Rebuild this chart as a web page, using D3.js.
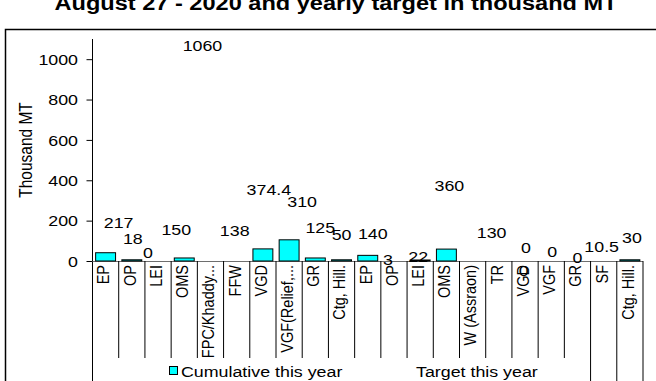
<!DOCTYPE html>
<html>
<head>
<meta charset="utf-8">
<script src="https://cdn.jsdelivr.net/npm/d3@7"></script>
<style>
  html, body { margin: 0; padding: 0; background: #fff; }
  svg { display: block; }
  text { font-family: "Liberation Sans", Arial, sans-serif; fill: #000; }
</style>
</head>
<body>
<svg id="chart" width="656" height="381"></svg>
<script>
// Programme names (two reporting blocks)
const categories = ["EP", "OP", "LEI", "OMS", "FPC/Khaddy...", "FFW", "VGD", "VGF(Relief,...", "GR", "Ctg, Hill.",
                    "EP", "OP", "LEI", "OMS", "W (Assraon)", "TR", "VGD", "VGF", "GR", "SF", "Ctg, Hill."];
// Thousand MT distributed so far this year
const cumulative = [41, 6, 0, 15, 0, 0, 60, 105, 15, 6, 28, 0, 5, 59, 0, 0, 0, 0, 0, 0, 6];
// Thousand MT yearly target
const target = [217, 18, 0, 150, 1060, 138, 374.4, 310, 125, 50, 140, 3, 22, 360, 130, 0, 0, 0, 0, 10.5, 30];
const yTicks = [0, 200, 400, 600, 800, 1000];
const seriesNames = ["Cumulative this year", "Target this year"];
const titleText = "August 27 - 2020 and yearly target in thousand MT";
const yTitle = "Thousand MT";

// Hand-dragged offsets of the target labels (dx, dy) so they do not collide
const labelNudge = [[13, 6], [1, -18], [-10, -8], [-8, -1], [-8, -1], [-2, -2], [6, 4], [13, 3], [5, -8], [0, -16],
                    [5, 1], [-6, 0], [-2, 0], [3, -2], [19, -2], [25, 10], [1, -13], [1, -9], [0, -3], [-2, -12], [2, -17]];
// Boundaries of the outer category level, whose divider lines run further down
const outerBreaks = [0, 19, 20, 21];

const svg = d3.select("#chart");
const stretch = 1.15;           // glyphs are rendered slightly wide
const fontSize = 15.5;

const plot = { left: 92.5, right: 643, top: 39, base: 261, tickEnd: 358, bottom: 381 };

const x = d3.scaleBand()
  .domain(d3.range(categories.length))
  .range([plot.left, plot.right])
  .padding(0);
const y = d3.scaleLinear().domain([0, 1100]).range([plot.base, plot.top]);
const barW = x.bandwidth() * 0.76;

function placeText(sel, px, py, rot) {
  sel.attr("transform", `translate(${px},${py}) scale(${stretch},1)` + (rot ? ` rotate(${rot})` : ""));
  return sel;
}

// Frame of the chart area
svg.append("path")
  .attr("d", `M5.5,${plot.bottom} V29.5 H656`)
  .attr("fill", "none").attr("stroke", "#000").attr("stroke-width", 1.5);

// Title
placeText(svg.append("text"), 336, 10)
  .attr("text-anchor", "middle")
  .attr("font-weight", "bold")
  .attr("font-size", 20.5)
  .text(titleText);

// Y axis
const yAxis = d3.axisLeft(y).tickValues(yTicks).tickSize(6).tickPadding(0).tickFormat(d3.format("d"));
const gy = svg.append("g").attr("transform", `translate(${plot.left},0)`).call(yAxis);
gy.select(".domain").remove();
gy.selectAll(".tick line").attr("stroke", "#000");
gy.selectAll(".tick text").remove();
gy.selectAll(".tick").each(function (d) {
  placeText(d3.select(this).append("text"), -14.5, 0)
    .attr("text-anchor", "end")
    .attr("dominant-baseline", "central")
    .attr("font-size", fontSize)
    .text(d);
});
svg.append("line")
  .attr("x1", plot.left).attr("x2", plot.left)
  .attr("y1", plot.top).attr("y2", plot.bottom)
  .attr("stroke", "#000");

placeText(svg.append("text"), 26.5, (plot.top + plot.base) / 2, -90)
  .attr("text-anchor", "middle")
  .attr("dominant-baseline", "central")
  .attr("font-size", fontSize)
  .text(yTitle);

// Category baseline
svg.append("line")
  .attr("x1", plot.left).attr("x2", plot.right)
  .attr("y1", plot.base + 0.5).attr("y2", plot.base + 0.5)
  .attr("stroke", "#6e6e6e");

// Category divider lines
const edges = d3.range(1, categories.length + 1);
svg.append("g").selectAll("line").data(edges).join("line")
  .attr("x1", i => x.step() * i + plot.left)
  .attr("x2", i => x.step() * i + plot.left)
  .attr("y1", plot.base)
  .attr("y2", i => outerBreaks.includes(i) ? plot.bottom : plot.tickEnd)
  .attr("stroke", "#000");

// Category labels
svg.append("g").selectAll("text").data(categories).join("text")
  .each(function (d, i) {
    placeText(d3.select(this), x(i) + x.bandwidth() / 2 - 2, plot.base + 4, -90);
  })
  .attr("text-anchor", "end")
  .attr("dominant-baseline", "central")
  .attr("font-size", 14.5)
  .text(d => d);

// Cumulative bars
svg.append("g").selectAll("rect")
  .data(cumulative.map((v, i) => ({ v, i })).filter(d => d.v > 0))
  .join("rect")
  .attr("x", d => x(d.i) + (x.bandwidth() - barW) / 2)
  .attr("y", d => y(d.v))
  .attr("width", barW)
  .attr("height", d => plot.base - y(d.v))
  .attr("fill", "#00FFFF")
  .attr("stroke", "#000")
  .attr("stroke-width", 1);

// Target bars are kept unfilled; only their values are shown
const tg = svg.append("g");
tg.selectAll("rect")
  .data(target.map((v, i) => ({ v, i })))
  .join("rect")
  .attr("x", d => x(d.i) + (x.bandwidth() - barW) / 2)
  .attr("y", d => y(d.v))
  .attr("width", barW)
  .attr("height", d => plot.base - y(d.v))
  .attr("fill", "none")
  .attr("stroke", "none");

tg.selectAll("text")
  .data(target.map((v, i) => ({ v, i })))
  .join("text")
  .each(function (d) {
    const [dx, dy] = labelNudge[d.i];
    placeText(d3.select(this), x(d.i) + x.bandwidth() / 2 + dx, y(d.v) + dy);
  })
  .attr("text-anchor", "middle")
  .attr("dominant-baseline", "central")
  .attr("font-size", fontSize)
  .text(d => d.v);

// Legend
const legend = svg.append("g");
legend.append("rect")
  .attr("x", 169.5).attr("y", 366.5).attr("width", 8).attr("height", 8)
  .attr("fill", "#00FFFF").attr("stroke", "#000");
placeText(legend.append("text"), 181, 372)
  .attr("dominant-baseline", "central")
  .attr("font-size", fontSize)
  .text(seriesNames[0]);
legend.append("rect")
  .attr("x", 404.5).attr("y", 366.5).attr("width", 8).attr("height", 8)
  .attr("fill", "none").attr("stroke", "none");
placeText(legend.append("text"), 416, 372)
  .attr("dominant-baseline", "central")
  .attr("font-size", fontSize)
  .text(seriesNames[1]);
</script>
</body>
</html>
